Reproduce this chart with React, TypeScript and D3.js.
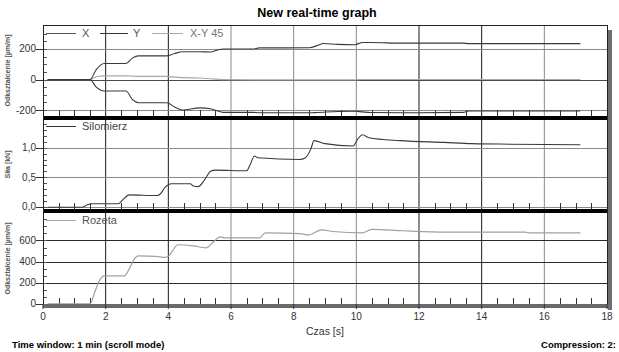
import React from 'react';
import * as d3 from 'd3';

const xyTime = [0.15, 1.5, 1.7, 1.95, 2.65, 2.85, 3.05, 3.95, 4.2, 4.45, 5.0, 5.35, 5.55, 5.75, 6.7, 6.9, 8.5, 8.75, 8.95, 9.4, 9.95, 10.2, 10.45, 11.5, 13.4, 13.6, 17.15];
const seriesX = [0, 0, 65, 105, 105, 140, 155, 155, 170, 182, 182, 180, 192, 200, 200, 207, 208, 222, 236, 230, 228, 242, 242, 238, 238, 235, 235];
const seriesY = [0, 0, -50, -75, -75, -130, -152, -152, -180, -200, -186, -192, -205, -215, -215, -218, -218, -216, -214, -210, -208, -212, -216, -218, -215, -206, -206];
const seriesXY45 = [0, 0, 18, 24, 24, 22, 20, 20, 15, 12, 10, 5, 2, -1, -2, -2, -2, -2, -2, -2, -2, 0, 0, 0, 0, 0, 0];

const forceTime = [0.15, 1.25, 1.4, 1.6, 2.4, 2.55, 2.75, 3.65, 3.75, 3.9, 4.1, 4.7, 4.8, 4.95, 5.15, 5.35, 5.5, 6.5, 6.6, 6.75, 6.85, 8.2, 8.35, 8.55, 8.65, 9.0, 9.9, 10.05, 10.2, 10.4, 11.4, 12.8, 13.7, 14.9, 17.15];
const silomierz = [-0.01, -0.01, 0.03, 0.05, 0.05, 0.12, 0.2, 0.19, 0.22, 0.33, 0.39, 0.39, 0.35, 0.34, 0.45, 0.6, 0.62, 0.61, 0.7, 0.86, 0.83, 0.8, 0.82, 0.98, 1.12, 1.07, 1.03, 1.15, 1.22, 1.17, 1.12, 1.09, 1.07, 1.06, 1.05];

const rosetteTime = [0.15, 1.5, 1.65, 1.8, 1.95, 2.6, 2.75, 2.9, 3.05, 3.6, 3.9, 4.0, 4.15, 4.3, 4.8, 5.2, 5.45, 5.65, 5.8, 6.9, 7.1, 8.2, 8.5, 8.7, 8.9, 9.25, 10.2, 10.5, 11.5, 12.9, 15.4, 15.5, 17.15];
const rozeta = [0, 0, 110, 220, 265, 265, 330, 420, 455, 450, 440, 450, 510, 560, 550, 530, 590, 635, 625, 625, 672, 665, 652, 680, 700, 685, 673, 705, 692, 680, 679, 672, 672];

const xTicks = [0, 2, 4, 6, 8, 10, 12, 14, 16, 18];
const strainTicks1 = [-200, 0, 200];
const forceTicks = [0, 0.5, 1.0];
const strainTicks3 = [0, 200, 400, 600];

const W = 619;
const H = 352;
const left = 43;
const right = 607;
const FONT = '"Liberation Sans", Arial, sans-serif';

const x = d3.scaleLinear().domain([0, 18]).range([left, right]);

const panels = [
  {
    key: 'p1', top: 25, bottom: 116,
    y: d3.scaleLinear().domain([-239, 357]).range([116, 25]),
    ticks: strainTicks1, minor: 50, fmt: (v: number) => String(v),
    title: 'Odkształcenie [µm/m]',
  },
  {
    key: 'p2', top: 120, bottom: 209,
    y: d3.scaleLinear().domain([-0.039, 1.47]).range([209, 120]),
    ticks: forceTicks, minor: 0.1, fmt: (v: number) => v.toFixed(1).replace('.', ','),
    title: 'Siła [kN]',
  },
  {
    key: 'p3', top: 213, bottom: 304,
    y: d3.scaleLinear().domain([-0.5, 860]).range([304, 213]),
    ticks: strainTicks3, minor: 200 / 3, fmt: (v: number) => String(v),
    title: 'Odkształcenie [µm/m]',
  },
];

const vGridColor = (t: number) => ([2, 4, 12, 14].includes(t) ? '#1a1a1a' : '#8a8a8a');

const linePath = (times: number[], vals: number[], y: d3.ScaleLinear<number, number>) =>
  d3.line<number>()
    .x((_, i) => x(times[i]))
    .y((v) => y(v))
    .curve(d3.curveMonotoneX)(vals) || '';

const App = () => {
  const [p1, p2, p3] = panels;
  const halfSeconds = d3.range(0.5, 18, 0.5).filter((t) => t % 2 !== 0);

  return (
    <svg width={W} height={H} style={{ position: 'absolute', left: 0, top: 0, background: '#fff' }} fontFamily={FONT}>
      <text x={317} y={17} textAnchor="middle" fontSize={12.5} fontWeight="bold" fill="#000">New real-time graph</text>

      {/* shadow on the right */}
      <rect x={608} y={30} width={4} height={280} fill="#6e6e6e" />

      {panels.map((p) => {
        const minors = d3.range(p.y.domain()[0], p.y.domain()[1], p.minor)
          .map((v) => Math.ceil(v / p.minor) * p.minor)
          .filter((v) => p.y(v) > p.top + 2 && p.y(v) < p.bottom - 1);
        const cy = (p.top + p.bottom) / 2;
        return (
          <g key={p.key}>
            <rect x={left} y={p.top} width={right - left} height={p.bottom - p.top} fill="#fff" />
            {xTicks.slice(1, -1).map((t) => (
              <line key={t} x1={x(t)} x2={x(t)} y1={p.top} y2={p.bottom} stroke={vGridColor(t)} strokeWidth={1} />
            ))}
            {p.ticks.map((v) => (
              <g key={v}>
                <line x1={36} x2={right} y1={Math.round(p.y(v)) + 0.5} y2={Math.round(p.y(v)) + 0.5}
                  stroke={v === 0 && p.key === 'p1' ? '#4a4a4a' : p.key === 'p3' ? '#2a2a2a' : '#8a8a8a'} />
                <line x1={36} x2={left} y1={Math.round(p.y(v)) + 0.5} y2={Math.round(p.y(v)) + 0.5} stroke="#333" />
                <text x={36} y={p.y(v) + 3.5} textAnchor="end" fontSize={10} fill="#333">{p.fmt(v)}</text>
              </g>
            ))}
            {minors.map((v, i) => (
              <line key={i} x1={left} x2={left + 4} y1={Math.round(p.y(v)) + 0.5} y2={Math.round(p.y(v)) + 0.5} stroke="#555" />
            ))}
            {halfSeconds.map((t) => (
              <line key={t} x1={Math.round(x(t)) + 0.5} x2={Math.round(x(t)) + 0.5} y1={p.bottom - 6} y2={p.bottom} stroke="#333" />
            ))}
            <text transform={`translate(10,${cy}) rotate(-90)`} textAnchor="middle" fontSize={7} fontWeight="bold" fill="#555">{p.title}</text>
          </g>
        );
      })}

      {/* series */}
      <path d={linePath(xyTime, seriesXY45, p1.y)} fill="none" stroke="#a8a8a8" strokeWidth={1.2} />
      <path d={linePath(xyTime, seriesX, p1.y)} fill="none" stroke="#3a3a3a" strokeWidth={1.1} />
      <path d={linePath(xyTime, seriesY, p1.y)} fill="none" stroke="#3a3a3a" strokeWidth={1.1} />
      <path d={linePath(forceTime, silomierz, p2.y)} fill="none" stroke="#3a3a3a" strokeWidth={1.1} />
      <path d={linePath(rosetteTime, rozeta, p3.y)} fill="none" stroke="#a0a0a0" strokeWidth={1.2} />

      {/* legends */}
      <line x1={46} x2={76} y1={33.5} y2={33.5} stroke="#555" />
      <text x={82} y={37} fontSize={11} fill="#555">X</text>
      <line x1={100} x2={128} y1={33.5} y2={33.5} stroke="#333" />
      <text x={133} y={37} fontSize={11} fill="#555">Y</text>
      <line x1={152} x2={183} y1={33.5} y2={33.5} stroke="#aaa" />
      <text x={190} y={37} fontSize={11} fill="#777">X-Y 45</text>

      <line x1={46} x2={76} y1={126.5} y2={126.5} stroke="#333" />
      <text x={82} y={130} fontSize={11} fill="#444">Silomierz</text>

      <line x1={46} x2={76} y1={220.5} y2={220.5} stroke="#aaa" />
      <text x={82} y={224} fontSize={11} fill="#555">Rozeta</text>

      {/* panel separators */}
      <rect x={left} y={116} width={right - left + 1} height={4} fill="#000" />
      <rect x={left} y={209} width={right - left + 1} height={4} fill="#000" />

      {/* frame */}
      <rect x={left + 0.5} y={25.5} width={right - left} height={304 - 25} fill="none" stroke="#222" />
      <rect x={left} y={304} width={right - left + 1} height={4} fill="#6a6a6a" />

      {/* x axis */}
      {xTicks.map((t) => (
        <g key={t}>
          <line x1={x(t)} x2={x(t)} y1={304} y2={309} stroke="#333" />
          <text x={x(t)} y={320} textAnchor="middle" fontSize={10} fill="#333">{t}</text>
        </g>
      ))}
      <text x={325} y={335} textAnchor="middle" fontSize={10.5} fill="#333">Czas [s]</text>

      <text x={12} y={348} fontSize={9.5} fontWeight="bold" fill="#000">Time window: 1 min (scroll mode)</text>
      <text x={616} y={348} textAnchor="end" fontSize={9.5} fontWeight="bold" fill="#000">Compression: 2:</text>
    </svg>
  );
};

export default App;
